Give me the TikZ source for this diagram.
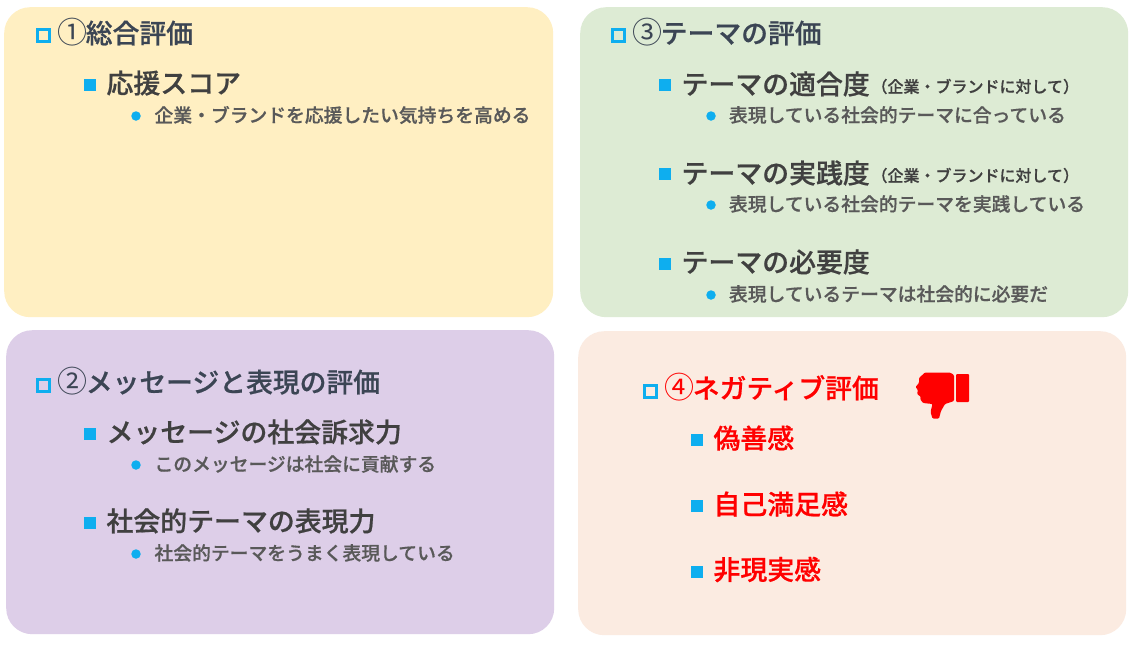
\documentclass[tikz,border=0pt]{standalone}
\usepackage{fontspec}
\setmainfont[BoldFont={Noto Sans CJK JP Medium},BoldFeatures={FakeBold=0.6}]{Noto Sans CJK JP}
\definecolor{cyellow}{HTML}{FFEFC2}
\definecolor{cgreen}{HTML}{DDEBD4}
\definecolor{cpurple}{HTML}{DDCEE8}
\definecolor{cpink}{HTML}{FBEBE1}
\definecolor{ctitle}{HTML}{3B4554}
\definecolor{chead}{HTML}{404040}
\definecolor{csub}{HTML}{595959}
\definecolor{cblue}{HTML}{0EAEEF}
\definecolor{cred}{HTML}{FF0000}
\tikzset{x=1pt,y=-1pt,
 panel/.style={draw=none,rounded corners=26pt,inner sep=0pt,anchor=north west},
 txt/.style={anchor=west,inner sep=0pt,outer sep=0pt},
 title/.style={txt,text=ctitle,font=\fontsize{26.8}{26}\selectfont\bfseries},
 head/.style={txt,text=chead,font=\fontsize{26.9}{26}\selectfont\bfseries},
 sub/.style={txt,text=csub,font=\fontsize{18.8}{18}\selectfont\bfseries},
 note/.style={txt,text=chead,font=\fontsize{16}{16}\selectfont\bfseries},
 redtitle/.style={title,text=cred},
 redhead/.style={head,text=cred},
 box/.style={draw=cblue,line width=3pt,fill=none,minimum size=12pt,inner sep=0pt,anchor=center},
 sq/.style={fill=cblue,minimum size=12pt,inner sep=0pt,anchor=center},
 dot/.style={circle,fill=cblue,minimum size=9.5pt,inner sep=0pt,anchor=center}}
\newcommand{\circnum}[1]{\makebox[26.8pt][c]{\fontsize{30}{26}\selectfont\mdseries #1}}
\begin{document}
\begin{tikzpicture}
\useasboundingbox (0,0) rectangle (1140,646);
\fill[white] (0,0) rectangle (1140,646);
% panels
\node[panel,fill=cyellow,minimum width=549pt,minimum height=310pt] (p1) at (4,7) {};
\node[panel,fill=cgreen,minimum width=548pt,minimum height=310pt] (p3) at (580,7) {};
\node[panel,fill=cpurple,minimum width=548pt,minimum height=304pt] (p2) at (6,330) {};
\node[panel,fill=cpink,minimum width=548pt,minimum height=304pt] (p4) at (578,331) {};
% panel 1
\node[box] (b1) at (43.5,35.5) {};
\node[title] (t1) at (59,31.8) {\circnum{①}総合評価};
\node[sq] (s1) at (90,85) {};
\node[head] (h1) at (106.5,83) {応援スコア};
\node[dot] (d1) at (136,116) {};
\node[sub] (u1) at (154.5,115) {企業・ブランドを応援したい気持ちを高める};
% panel 3
\node[box] (b3) at (618.5,35.5) {};
\node[title] (t3) at (634,31.8) {\circnum{③}テーマの評価};
\node[sq] (s31) at (665,85) {};
\node[head] (h31) at (681.5,84) {テーマの適合度};
\node[note] (n31) at (871.5,86.5) {（企業・ブランドに対して）};
\node[dot] (d31) at (711,116) {};
\node[sub] (u31) at (729,115) {表現している社会的テーマに合っている};
\node[sq] (s32) at (665,174) {};
\node[head] (h32) at (681.5,173) {テーマの実践度};
\node[note] (n32) at (871.5,175.5) {（企業・ブランドに対して）};
\node[dot] (d32) at (711,205) {};
\node[sub] (u32) at (729,204) {表現している社会的テーマを実践している};
\node[sq] (s33) at (665,264) {};
\node[head] (h33) at (681.5,262) {テーマの必要度};
\node[dot] (d33) at (711,295) {};
\node[sub] (u33) at (729,294) {表現しているテーマは社会的に必要だ};
% panel 2
\node[box] (b2) at (43.5,385) {};
\node[title] (t2) at (59,380.8) {\circnum{②}メッセージと表現の評価};
\node[sq] (s21) at (90,434) {};
\node[head] (h21) at (106.5,432) {メッセージの社会訴求力};
\node[dot] (d21) at (136,465) {};
\node[sub] (u21) at (154.5,464) {このメッセージは社会に貢献する};
\node[sq] (s22) at (90,523) {};
\node[head] (h22) at (106.5,521) {社会的テーマの表現力};
\node[dot] (d22) at (136,554) {};
\node[sub] (u22) at (154.5,553) {社会的テーマをうまく表現している};
% panel 4
\node[box] (b4) at (650.5,391) {};
\node[redtitle] (t4) at (666,386.8) {\circnum{④}ネガティブ評価};
\node[sq] (s41) at (697,440) {};
\node[redhead] (h41) at (713.5,438) {偽善感};
\node[sq] (s42) at (697,506) {};
\node[redhead] (h42) at (713.5,504) {自己満足感};
\node[sq] (s43) at (697,572) {};
\node[redhead] (h43) at (713.5,569.5) {非現実感};
% thumbs-down
\fill[cred,rounded corners=1pt] (956,374) rectangle (969,402);
\fill[cred,rounded corners=1pt] (925,372.5) -- (950,372.5) -- (954,375) -- (954,401) -- (945,404)
 -- (941,411) -- (939,418.5) -- (932.5,418.5) -- (930.5,412) -- (932.5,404) -- (923,403) -- (920,399)
 -- (921,397) -- (917,394) -- (918,390) -- (915.5,387) -- (919,383) -- (919,378) -- cycle;
\end{tikzpicture}
\end{document}
